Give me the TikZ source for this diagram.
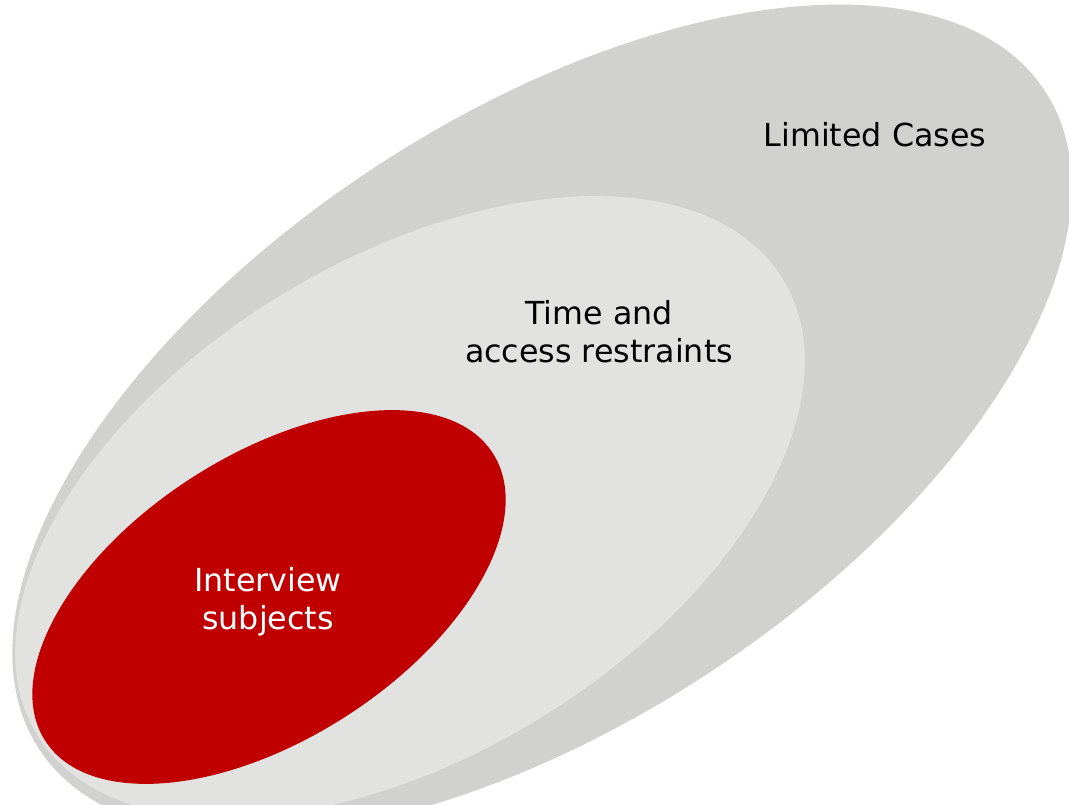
\documentclass[tikz,border=0pt]{standalone}
\usepackage{fontspec}
\setmainfont{DejaVu Sans}
\definecolor{outergray}{HTML}{D1D1D0}
\definecolor{innergray}{HTML}{E2E2E1}
\definecolor{deepred}{HTML}{C00000}
\begin{document}
\begin{tikzpicture}[x=1pt,y=-1pt,
  label/.style={inner sep=0pt, align=center, font=\fontsize{31.7}{38}\selectfont},
]
\useasboundingbox (0,0) rectangle (1069,805);
\fill[white] (0,0) rectangle (1069,805);
\clip (0,0) rectangle (1069,805);

% nested sets, outermost first
\fill[outergray, shift={(542,420)}, rotate=33.2] (0,0) ellipse [x radius=601, y radius=303];
\fill[innergray, shift={(410,507)}, rotate=31.4] (0,0) ellipse [x radius=437, y radius=248];
\fill[deepred, shift={(269,597)}, rotate=32.7] (0,0) ellipse [x radius=266, y radius=142];

\node[label, anchor=base] (limited) at (875,147) {Limited Cases};
\node[label] (restraints) at (599,332) {Time and\\access restraints};
\node[label, text=white] (subjects) at (268,602) {Interview\\subjects};
\end{tikzpicture}
\end{document}
